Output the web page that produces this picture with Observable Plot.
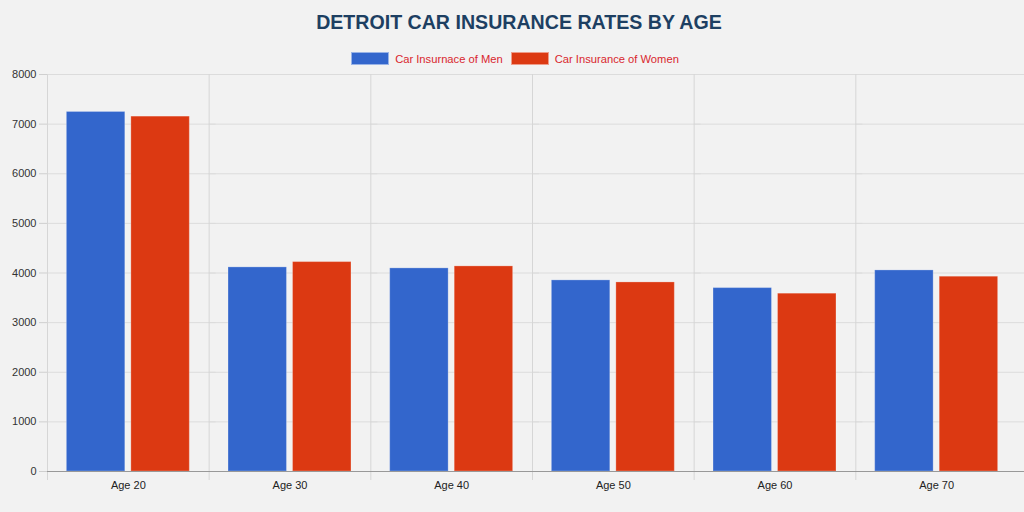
<!DOCTYPE html>
<html>
<head>
<meta charset="utf-8">
<script src="https://cdn.jsdelivr.net/npm/d3@7"></script>
<script src="https://cdn.jsdelivr.net/npm/@observablehq/plot@0.6"></script>
<style>
  html, body { margin: 0; padding: 0; background: #f2f2f2; }
  body { width: 1024px; height: 512px; position: relative; overflow: hidden; font-family: "Liberation Sans", Arial, sans-serif; }
  #title { position: absolute; top: 11px; left: 7px; width: 1024px; text-align: center; font-size: 19.6px; font-weight: bold; color: #1d3f62; z-index: 2; }
  #legend { position: absolute; top: 52px; left: 3px; width: 1024px; display: flex; justify-content: center; align-items: center; font-size: 11.2px; color: #d9262e; z-index: 2; }
  .sw { display: inline-block; width: 36px; height: 11px; margin-right: 6px; border: 1px solid rgba(255,255,255,0.5); }
  .item { display: flex; align-items: center; margin: 0 4px; }
  #chart { position: absolute; top: 60px; left: 0; z-index: 1; }
</style>
</head>
<body>
<div id="title">DETROIT CAR INSURANCE RATES BY AGE</div>
<div id="legend"></div>
<div id="chart"></div>
<script>
const ages = ["Age 20", "Age 30", "Age 40", "Age 50", "Age 60", "Age 70"];
const seriesNames = ["Car Insurnace of Men", "Car Insurance of Women"];
const menValues = [7245, 4113, 4093, 3851, 3696, 4052];
const womenValues = [7151, 4220, 4133, 3810, 3583, 3925];
const colors = ["#3366cc", "#dc3912"];
const yTicks = [0, 1000, 2000, 3000, 4000, 5000, 6000, 7000, 8000];

const data = [];
ages.forEach((a, i) => {
  data.push({age: a, series: seriesNames[0], value: menValues[i]});
  data.push({age: a, series: seriesNames[1], value: womenValues[i]});
});

const legend = document.getElementById("legend");
seriesNames.forEach((s, i) => {
  const it = document.createElement("div");
  it.className = "item";
  const sw = document.createElement("span");
  sw.className = "sw";
  sw.style.background = colors[i];
  const t = document.createElement("span");
  t.textContent = s;
  it.appendChild(sw); it.appendChild(t);
  legend.appendChild(it);
});

const chart = Plot.plot({
  width: 1024,
  height: 452,
  marginTop: 14,
  marginBottom: 41,
  marginLeft: 47,
  marginRight: 7,
  style: {background: "transparent", fontFamily: "'Liberation Sans', Arial, sans-serif", fontSize: "11px", color: "#333"},
  fx: {domain: ages, padding: 0, label: null, round: false},
  x: {domain: seriesNames, paddingInner: 0.094, paddingOuter: 0.3, axis: null, round: false},
  y: {domain: [0, 8000], label: null},
  color: {domain: seriesNames, range: colors},
  marks: [
    Plot.ruleY(yTicks, {stroke: "#dcdcdc", strokeOpacity: 1, insetRight: -7}),
    Plot.frame({anchor: "left", stroke: "#d6d6d6", strokeOpacity: 1, insetBottom: -8}),
    Plot.axisY({ticks: yTicks, tickFormat: d3.format("d"), tickSize: 8, tickPadding: 3, stroke: "#cfcfcf", strokeOpacity: 1, fill: "#333", fontSize: 11, label: null}),
    Plot.axisFx({anchor: "bottom", tickSize: 0, tickPadding: 10, fontSize: 11, fill: "#222", label: null}),
    Plot.barY(data, {fx: "age", x: "series", y: "value", fill: "series", stroke: "#ffffff", strokeOpacity: 0.25, strokeWidth: 1}),
    Plot.ruleY([0], {stroke: "#999", strokeOpacity: 1, insetRight: -7})
  ]
});
document.getElementById("chart").appendChild(chart);
</script>
</body>
</html>
